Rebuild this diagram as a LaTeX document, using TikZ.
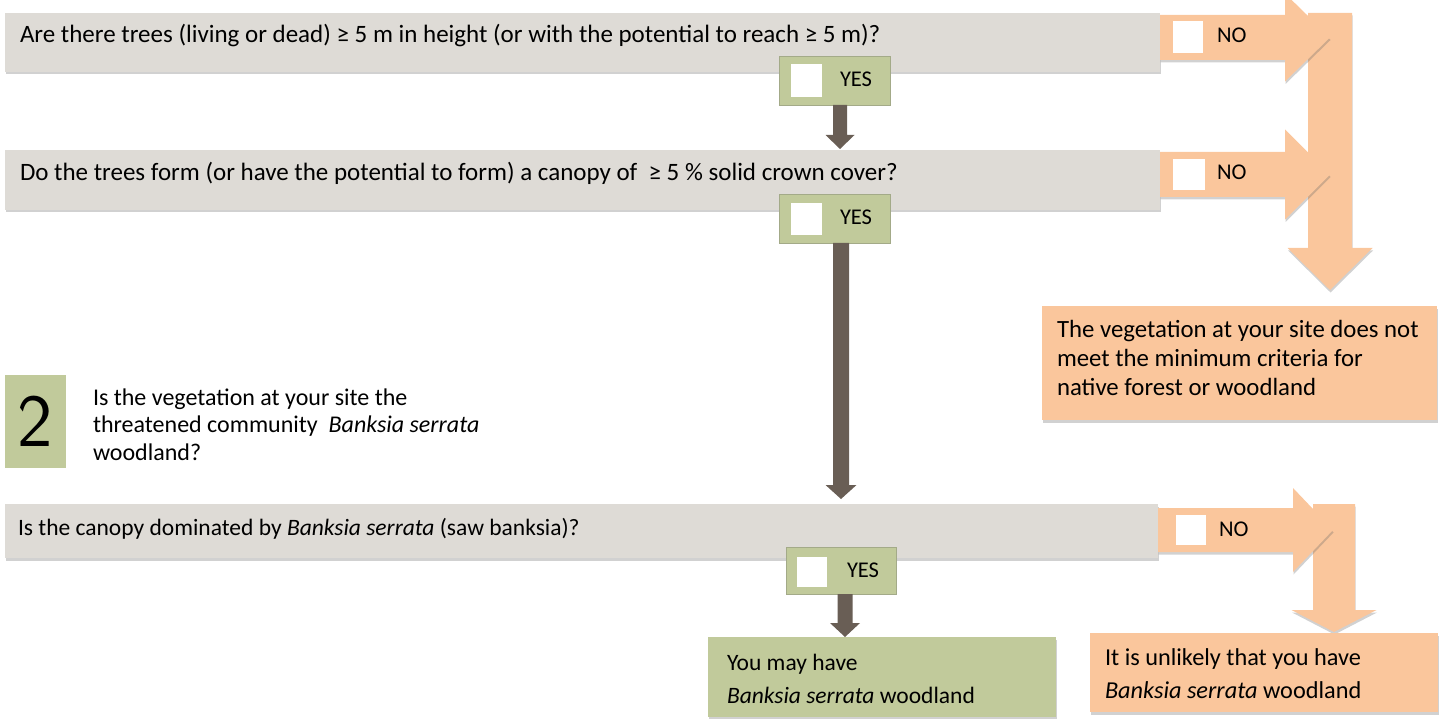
\documentclass[tikz,border=0pt]{standalone}
\usepackage{fontspec}
\setmainfont{Carlito}
\usetikzlibrary{shadows,calc}
\definecolor{qgray}{HTML}{DEDBD6}
\definecolor{norange}{HTML}{FAC69C}
\definecolor{ygreen}{HTML}{C1CA9B}
\definecolor{ydark}{HTML}{695E55}
\definecolor{yedge}{HTML}{A3AA88}
% horizontal block arrow: style, start, tip, half shaft, half head, head length
\newcommand\hblock[6]{\path[#1] let \p1=(#2), \p2=(#3) in
  (\x1,\y2+#4pt) -- (\x2-#6pt,\y2+#4pt) -- (\x2-#6pt,\y2+#5pt) -- (\x2,\y2)
  -- (\x2-#6pt,\y2-#5pt) -- (\x2-#6pt,\y2-#4pt) -- (\x1,\y2-#4pt) -- cycle;}
% vertical block arrow (downwards): style, start, tip, half shaft, half head, head length
\newcommand\vblock[6]{\path[#1] let \p1=(#2), \p2=(#3) in
  (\x2-#4pt,\y1) -- (\x2+#4pt,\y1) -- (\x2+#4pt,\y2+#6pt) -- (\x2+#5pt,\y2+#6pt) -- (\x2,\y2)
  -- (\x2-#5pt,\y2+#6pt) -- (\x2-#4pt,\y2+#6pt) -- cycle;}
% multi-line text block: font size, line spacing, text
\newcommand\txtblock[3]{\parbox[t]{500pt}{\raggedright\fontsize{#1}{#2}\selectfont #3}}
\begin{document}
\begin{tikzpicture}[x=1pt,y=-1pt,
  shd/.style={drop shadow={shadow xshift=0.5pt,shadow yshift=-2.5pt,opacity=0.3,fill=black!60}},
  boxbase/.style={rectangle,anchor=north west,inner sep=0pt,outer sep=0pt},
  qbox/.style={boxbase,fill=qgray,shd},
  yesbox/.style={boxbase,fill=ygreen,draw=yedge,line width=0.8pt},
  chkbox/.style={boxbase,fill=white},
  nobox/.style={boxbase,fill=norange,shd},
  greenbox/.style={boxbase,fill=ygreen,shd},
  txt/.style={anchor=base west,inner sep=0pt,outer sep=0pt,font=\fontsize{25}{30}\selectfont},
  lbl/.style={anchor=base west,inner sep=0pt,outer sep=0pt,font=\fontsize{22.5}{26}\selectfont},
  noarrow/.style={fill=norange,shd},
  darrow/.style={fill=ydark}]
\useasboundingbox (0,0) rectangle (1439,719);

% question boxes
\node[qbox,minimum width=1155pt,minimum height=59pt] (q1) at (5,13) {};
\node[qbox,minimum width=1155pt,minimum height=60pt] (q2) at (5,150) {};
\node[qbox,minimum width=1153pt,minimum height=54pt] (q3) at (5,504) {};

% tip coordinates
\coordinate (n1tip) at (1330,37.5);
\coordinate (n2tip) at (1330,174.5);
\coordinate (b1top) at (1330,13);
\coordinate (b1tip) at (1330,290);
\coordinate (n3tip) at (1333,530);
\coordinate (b2top) at (1334,504);
\coordinate (b2tip) at (1334,632);
\coordinate (d1tip) at (840,149);
\coordinate (d2tip) at (841,499);
\coordinate (d3tip) at (845,637);

% orange NO arrows
\vblock{noarrow}{b1top}{b1tip}{22}{42.5}{42}
\hblock{noarrow}{q1.east}{n1tip}{22.5}{44}{45}
\hblock{noarrow}{q2.east}{n2tip}{22.5}{45}{45}
\vblock{noarrow}{b2top}{b2tip}{21}{42.5}{22}
\hblock{noarrow}{q3.east}{n3tip}{22}{42}{40}

% YES boxes
\node[yesbox,minimum width=111pt,minimum height=49pt] (yes1) at (779,56) {};
\node[yesbox,minimum width=111pt,minimum height=49pt] (yes2) at (779,194) {};
\node[yesbox,minimum width=110pt,minimum height=47pt] (yes3) at (786,547) {};

% dark YES arrows
\vblock{darrow}{yes1.south}{d1tip}{7}{14.5}{14}
\vblock{darrow}{yes2.south}{d2tip}{8}{15.5}{14}
\vblock{darrow}{yes3.south}{d3tip}{7.5}{15}{14}

% check squares
\node[chkbox,minimum width=31pt,minimum height=33pt] (c1) at (791,64) {};
\node[chkbox,minimum width=31pt,minimum height=32pt] (c2) at (791,203) {};
\node[chkbox,minimum width=30pt,minimum height=30pt] (c3) at (797,557) {};
\node[chkbox,minimum width=30pt,minimum height=32pt] (k1) at (1173,21) {};
\node[chkbox,minimum width=32pt,minimum height=31pt] (k2) at (1173,159) {};
\node[chkbox,minimum width=30pt,minimum height=30pt] (k3) at (1176,515) {};

% result boxes
\node[nobox,minimum width=395pt,minimum height=114pt] (r1) at (1042,306) {};
\node[nobox,minimum width=348pt,minimum height=79pt] (r2) at (1090,633) {};
\node[greenbox,minimum width=348pt,minimum height=80pt] (r3) at (708,637) {};
\node[boxbase,fill=ygreen,minimum width=61pt,minimum height=93pt] (s2) at (5,375) {};

% texts
\node[txt] (q1t) at (20,43) {Are there trees (living or dead) ≥ 5 m in height (or with the potential to reach ≥ 5 m)?};
\node[txt] (q2t) at (20,181) {Do the trees form (or have the potential to form) a canopy of \ ≥ 5 \% solid crown cover?};
\node[txt,font=\fontsize{23.5}{28}\selectfont] (q3t) at (18,535) {Is the canopy dominated by \textit{Banksia serrata} (saw banksia)?};
\node[lbl] (y1t) at (840,87) {YES};
\node[lbl] (y2t) at (840,225) {YES};
\node[lbl] (y3t) at (847,577) {YES};
\node[lbl] (n1t) at (1217,43) {NO};
\node[lbl] (n2t) at (1217,180) {NO};
\node[lbl] (n3t) at (1219,536) {NO};
\node[txt] (r1t) at (1057,337) {\txtblock{24.8}{29}{The vegetation at your site does not\\meet the minimum criteria for\\native forest or woodland}};
\node[txt] (r2t) at (1105,665) {\txtblock{24.3}{33}{It is unlikely that you have\\\textit{Banksia serrata} woodland}};
\node[txt] (r3t) at (727,670) {\txtblock{23.5}{33}{You may have\\\textit{Banksia serrata} woodland}};
\node[txt] (s2t) at (93,405) {\txtblock{24}{27.5}{Is the vegetation at your site the\\threatened community \ \textit{Banksia serrata}\\woodland?}};
\node[anchor=center,inner sep=0pt,font=\sffamily\fontsize{75}{75}\selectfont] (s2n) at (s2.center) {2};
\end{tikzpicture}
\end{document}
